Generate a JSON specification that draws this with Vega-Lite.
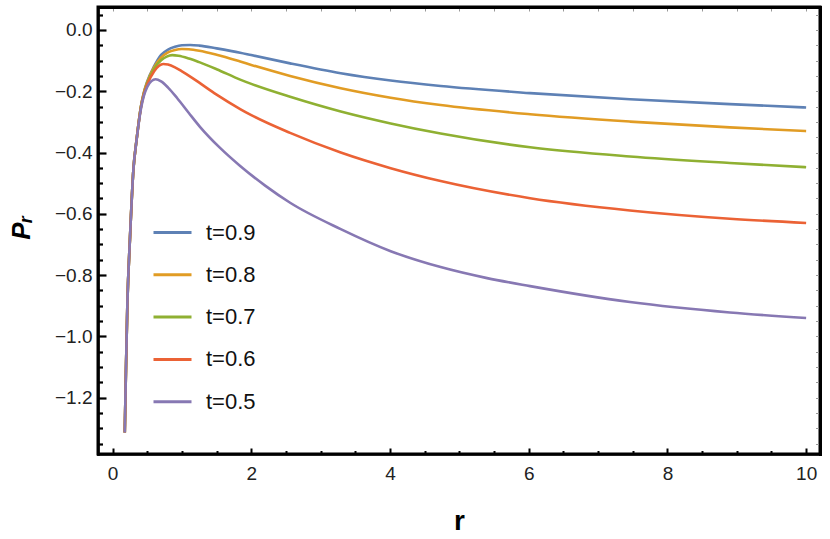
{
  "$schema": "https://vega.github.io/schema/vega-lite/v6.json",
  "width": 722,
  "height": 447,
  "autosize": "none",
  "padding": {"left": 98, "top": 7, "right": 10, "bottom": 85},
  "background": "white",
  "view": {"stroke": "black", "strokeWidth": 3},
  "config": {
    "font": "Liberation Sans",
    "view": {"stroke": "black", "strokeWidth": 3},
    "axis": {"grid": false}
  },
  "data": {
    "values": [
      {"t": "t=0.9", "r": 0.176, "P": -1.314}, {"t": "t=0.9", "r": 0.193, "P": -1.11}, {"t": "t=0.9", "r": 0.214, "P": -0.89},
      {"t": "t=0.9", "r": 0.25, "P": -0.685}, {"t": "t=0.9", "r": 0.3, "P": -0.457}, {"t": "t=0.9", "r": 0.346, "P": -0.359},
      {"t": "t=0.9", "r": 0.41, "P": -0.248}, {"t": "t=0.9", "r": 0.45, "P": -0.205}, {"t": "t=0.9", "r": 0.5, "P": -0.168},
      {"t": "t=0.9", "r": 0.6, "P": -0.118}, {"t": "t=0.9", "r": 0.7, "P": -0.081}, {"t": "t=0.9", "r": 0.8, "P": -0.064},
      {"t": "t=0.9", "r": 0.9, "P": -0.055}, {"t": "t=0.9", "r": 1.0, "P": -0.05}, {"t": "t=0.9", "r": 1.12, "P": -0.049},
      {"t": "t=0.9", "r": 1.25, "P": -0.051}, {"t": "t=0.9", "r": 1.5, "P": -0.06}, {"t": "t=0.9", "r": 1.84, "P": -0.074},
      {"t": "t=0.9", "r": 2.0, "P": -0.082}, {"t": "t=0.9", "r": 2.56, "P": -0.109}, {"t": "t=0.9", "r": 3.29, "P": -0.141},
      {"t": "t=0.9", "r": 4.01, "P": -0.165}, {"t": "t=0.9", "r": 4.73, "P": -0.183}, {"t": "t=0.9", "r": 6.02, "P": -0.206},
      {"t": "t=0.9", "r": 7.46, "P": -0.226}, {"t": "t=0.9", "r": 8.9, "P": -0.242}, {"t": "t=0.9", "r": 10, "P": -0.253},

      {"t": "t=0.8", "r": 0.176, "P": -1.314}, {"t": "t=0.8", "r": 0.193, "P": -1.11}, {"t": "t=0.8", "r": 0.214, "P": -0.89},
      {"t": "t=0.8", "r": 0.25, "P": -0.685}, {"t": "t=0.8", "r": 0.3, "P": -0.457}, {"t": "t=0.8", "r": 0.346, "P": -0.359},
      {"t": "t=0.8", "r": 0.41, "P": -0.249}, {"t": "t=0.8", "r": 0.45, "P": -0.206}, {"t": "t=0.8", "r": 0.5, "P": -0.17},
      {"t": "t=0.8", "r": 0.6, "P": -0.121}, {"t": "t=0.8", "r": 0.7, "P": -0.09}, {"t": "t=0.8", "r": 0.8, "P": -0.073},
      {"t": "t=0.8", "r": 0.9, "P": -0.065}, {"t": "t=0.8", "r": 1.0, "P": -0.062}, {"t": "t=0.8", "r": 1.1, "P": -0.063},
      {"t": "t=0.8", "r": 1.25, "P": -0.068}, {"t": "t=0.8", "r": 1.5, "P": -0.081}, {"t": "t=0.8", "r": 1.84, "P": -0.103},
      {"t": "t=0.8", "r": 2.0, "P": -0.114}, {"t": "t=0.8", "r": 2.56, "P": -0.15}, {"t": "t=0.8", "r": 3.29, "P": -0.19},
      {"t": "t=0.8", "r": 4.01, "P": -0.221}, {"t": "t=0.8", "r": 4.73, "P": -0.245}, {"t": "t=0.8", "r": 6.02, "P": -0.275},
      {"t": "t=0.8", "r": 7.46, "P": -0.299}, {"t": "t=0.8", "r": 8.9, "P": -0.318}, {"t": "t=0.8", "r": 10, "P": -0.33},

      {"t": "t=0.7", "r": 0.176, "P": -1.314}, {"t": "t=0.7", "r": 0.193, "P": -1.11}, {"t": "t=0.7", "r": 0.214, "P": -0.89},
      {"t": "t=0.7", "r": 0.25, "P": -0.685}, {"t": "t=0.7", "r": 0.3, "P": -0.457}, {"t": "t=0.7", "r": 0.346, "P": -0.359},
      {"t": "t=0.7", "r": 0.41, "P": -0.25}, {"t": "t=0.7", "r": 0.45, "P": -0.208}, {"t": "t=0.7", "r": 0.5, "P": -0.173},
      {"t": "t=0.7", "r": 0.6, "P": -0.126}, {"t": "t=0.7", "r": 0.7, "P": -0.099}, {"t": "t=0.7", "r": 0.78, "P": -0.087},
      {"t": "t=0.7", "r": 0.86, "P": -0.082}, {"t": "t=0.7", "r": 0.95, "P": -0.084}, {"t": "t=0.7", "r": 1.1, "P": -0.093},
      {"t": "t=0.7", "r": 1.25, "P": -0.105}, {"t": "t=0.7", "r": 1.5, "P": -0.128}, {"t": "t=0.7", "r": 1.84, "P": -0.162},
      {"t": "t=0.7", "r": 2.0, "P": -0.176}, {"t": "t=0.7", "r": 2.56, "P": -0.218}, {"t": "t=0.7", "r": 3.29, "P": -0.266},
      {"t": "t=0.7", "r": 4.01, "P": -0.305}, {"t": "t=0.7", "r": 4.73, "P": -0.338}, {"t": "t=0.7", "r": 6.02, "P": -0.383},
      {"t": "t=0.7", "r": 7.46, "P": -0.413}, {"t": "t=0.7", "r": 8.9, "P": -0.434}, {"t": "t=0.7", "r": 10, "P": -0.448},

      {"t": "t=0.6", "r": 0.176, "P": -1.314}, {"t": "t=0.6", "r": 0.193, "P": -1.11}, {"t": "t=0.6", "r": 0.214, "P": -0.89},
      {"t": "t=0.6", "r": 0.25, "P": -0.685}, {"t": "t=0.6", "r": 0.3, "P": -0.457}, {"t": "t=0.6", "r": 0.346, "P": -0.359},
      {"t": "t=0.6", "r": 0.41, "P": -0.252}, {"t": "t=0.6", "r": 0.45, "P": -0.211}, {"t": "t=0.6", "r": 0.5, "P": -0.178},
      {"t": "t=0.6", "r": 0.6, "P": -0.135}, {"t": "t=0.6", "r": 0.67, "P": -0.117}, {"t": "t=0.6", "r": 0.73, "P": -0.111},
      {"t": "t=0.6", "r": 0.8, "P": -0.113}, {"t": "t=0.6", "r": 0.9, "P": -0.122}, {"t": "t=0.6", "r": 1.0, "P": -0.135},
      {"t": "t=0.6", "r": 1.12, "P": -0.152}, {"t": "t=0.6", "r": 1.25, "P": -0.172}, {"t": "t=0.6", "r": 1.5, "P": -0.211},
      {"t": "t=0.6", "r": 1.84, "P": -0.258}, {"t": "t=0.6", "r": 2.0, "P": -0.278}, {"t": "t=0.6", "r": 2.56, "P": -0.336},
      {"t": "t=0.6", "r": 3.29, "P": -0.4}, {"t": "t=0.6", "r": 4.01, "P": -0.451}, {"t": "t=0.6", "r": 4.73, "P": -0.493},
      {"t": "t=0.6", "r": 6.02, "P": -0.549}, {"t": "t=0.6", "r": 7.46, "P": -0.589}, {"t": "t=0.6", "r": 8.9, "P": -0.616},
      {"t": "t=0.6", "r": 10, "P": -0.63},

      {"t": "t=0.5", "r": 0.176, "P": -1.314}, {"t": "t=0.5", "r": 0.193, "P": -1.11}, {"t": "t=0.5", "r": 0.214, "P": -0.89},
      {"t": "t=0.5", "r": 0.25, "P": -0.685}, {"t": "t=0.5", "r": 0.3, "P": -0.457}, {"t": "t=0.5", "r": 0.346, "P": -0.36},
      {"t": "t=0.5", "r": 0.41, "P": -0.256}, {"t": "t=0.5", "r": 0.45, "P": -0.216}, {"t": "t=0.5", "r": 0.5, "P": -0.186},
      {"t": "t=0.5", "r": 0.56, "P": -0.167}, {"t": "t=0.5", "r": 0.62, "P": -0.161}, {"t": "t=0.5", "r": 0.7, "P": -0.168},
      {"t": "t=0.5", "r": 0.8, "P": -0.188}, {"t": "t=0.5", "r": 0.93, "P": -0.222}, {"t": "t=0.5", "r": 1.1, "P": -0.271},
      {"t": "t=0.5", "r": 1.26, "P": -0.316}, {"t": "t=0.5", "r": 1.55, "P": -0.385}, {"t": "t=0.5", "r": 1.84, "P": -0.444},
      {"t": "t=0.5", "r": 2.2, "P": -0.508}, {"t": "t=0.5", "r": 2.56, "P": -0.564}, {"t": "t=0.5", "r": 3.29, "P": -0.65},
      {"t": "t=0.5", "r": 4.01, "P": -0.722}, {"t": "t=0.5", "r": 4.73, "P": -0.774}, {"t": "t=0.5", "r": 5.4, "P": -0.81},
      {"t": "t=0.5", "r": 6.02, "P": -0.836}, {"t": "t=0.5", "r": 7.46, "P": -0.888}, {"t": "t=0.5", "r": 8.9, "P": -0.922},
      {"t": "t=0.5", "r": 10, "P": -0.94}
    ]
  },
  "layer": [
    {
      "mark": {"type": "line", "strokeWidth": 2.6, "interpolate": "monotone"},
      "encoding": {
        "x": {
          "field": "r", "type": "quantitative",
          "scale": {"domain": [-0.21, 10.2], "nice": false, "zero": false},
          "axis": {
            "orient": "bottom",
            "domain": true, "domainColor": "#000000", "domainWidth": 2.6, "domainCap": "square",
            "values": [0, 0.5, 1, 1.5, 2, 2.5, 3, 3.5, 4, 4.5, 5, 5.5, 6, 6.5, 7, 7.5, 8, 8.5, 9, 9.5, 10],
            "labelExpr": "datum.value % 2 == 0 ? format(datum.value, 'd') : ''",
            "tickColor": "black", "tickWidth": 2,
            "tickSize": {"condition": {"test": "datum.value % 2 == 0", "value": -6}, "value": -3.5},
            "labelFontSize": 19, "labelColor": "#222", "labelPadding": 16,
            "title": "r", "titleFontSize": 28, "titleFontWeight": "bold",
            "titleX": 361, "titleY": 75, "titleBaseline": "alphabetic", "titleAlign": "center"
          }
        },
        "y": {
          "field": "P", "type": "quantitative",
          "scale": {"domain": [-1.384, 0.075], "nice": false, "zero": false},
          "axis": {
            "orient": "left",
            "domain": true, "domainColor": "#000000", "domainWidth": 2.6, "domainCap": "square",
            "values": [0.05, 0, -0.05, -0.1, -0.15, -0.2, -0.25, -0.3, -0.35, -0.4, -0.45, -0.5, -0.55, -0.6, -0.65, -0.7, -0.75, -0.8, -0.85, -0.9, -0.95, -1, -1.05, -1.1, -1.15, -1.2, -1.25, -1.3, -1.35],
            "labelExpr": "abs(round(datum.value * 100)) % 20 == 0 ? format(datum.value, '.1f') : ''",
            "tickColor": "black", "tickWidth": 2.2,
            "tickSize": {"condition": {"test": "abs(round(datum.value * 100)) % 20 == 0", "value": -8}, "value": -4.5},
            "labelFontSize": 19, "labelColor": "#222", "labelPadding": 14,
            "title": "Pᵣ", "titleFontSize": 26, "titleFontWeight": "bold", "titleFontStyle": "italic",
            "titleAngle": 270, "titleX": -77, "titleY": 220, "titleAlign": "center", "titleBaseline": "middle"
          }
        },
        "color": {
          "field": "t", "type": "nominal",
          "scale": {
            "domain": ["t=0.9", "t=0.8", "t=0.7", "t=0.6", "t=0.5"],
            "range": ["#5E81B5", "#E19C24", "#8FB032", "#EB6235", "#8778B3"]
          },
          "legend": {
            "orient": "none", "legendX": 54, "legendY": 205, "title": null,
            "symbolType": "stroke", "symbolSize": 1444, "symbolStrokeWidth": 3,
            "labelFontSize": 22, "labelColor": "#111", "labelOffset": 13,
            "rowPadding": 10.3, "padding": 0
          }
        }
      }
    },
    {
      "mark": {"type": "line", "opacity": 0},
      "encoding": {
        "x": {
          "field": "r", "type": "quantitative",
          "axis": {
            "orient": "top", "labels": false, "title": null,
            "domain": true, "domainColor": "#000000", "domainWidth": 3, "domainCap": "square",
            "tickCount": 21, "tickColor": "#999", "tickWidth": 1, "tickSize": -4
          }
        },
        "y": {
          "field": "P", "type": "quantitative",
          "axis": {
            "orient": "right", "labels": false, "title": null,
            "domain": true, "domainColor": "#000000", "domainWidth": 3, "domainCap": "square",
            "tickCount": 29, "tickColor": "#999", "tickWidth": 1, "tickSize": -4.5
          }
        }
      }
    }
  ],
  "resolve": {"axis": {"x": "independent", "y": "independent"}}
}
